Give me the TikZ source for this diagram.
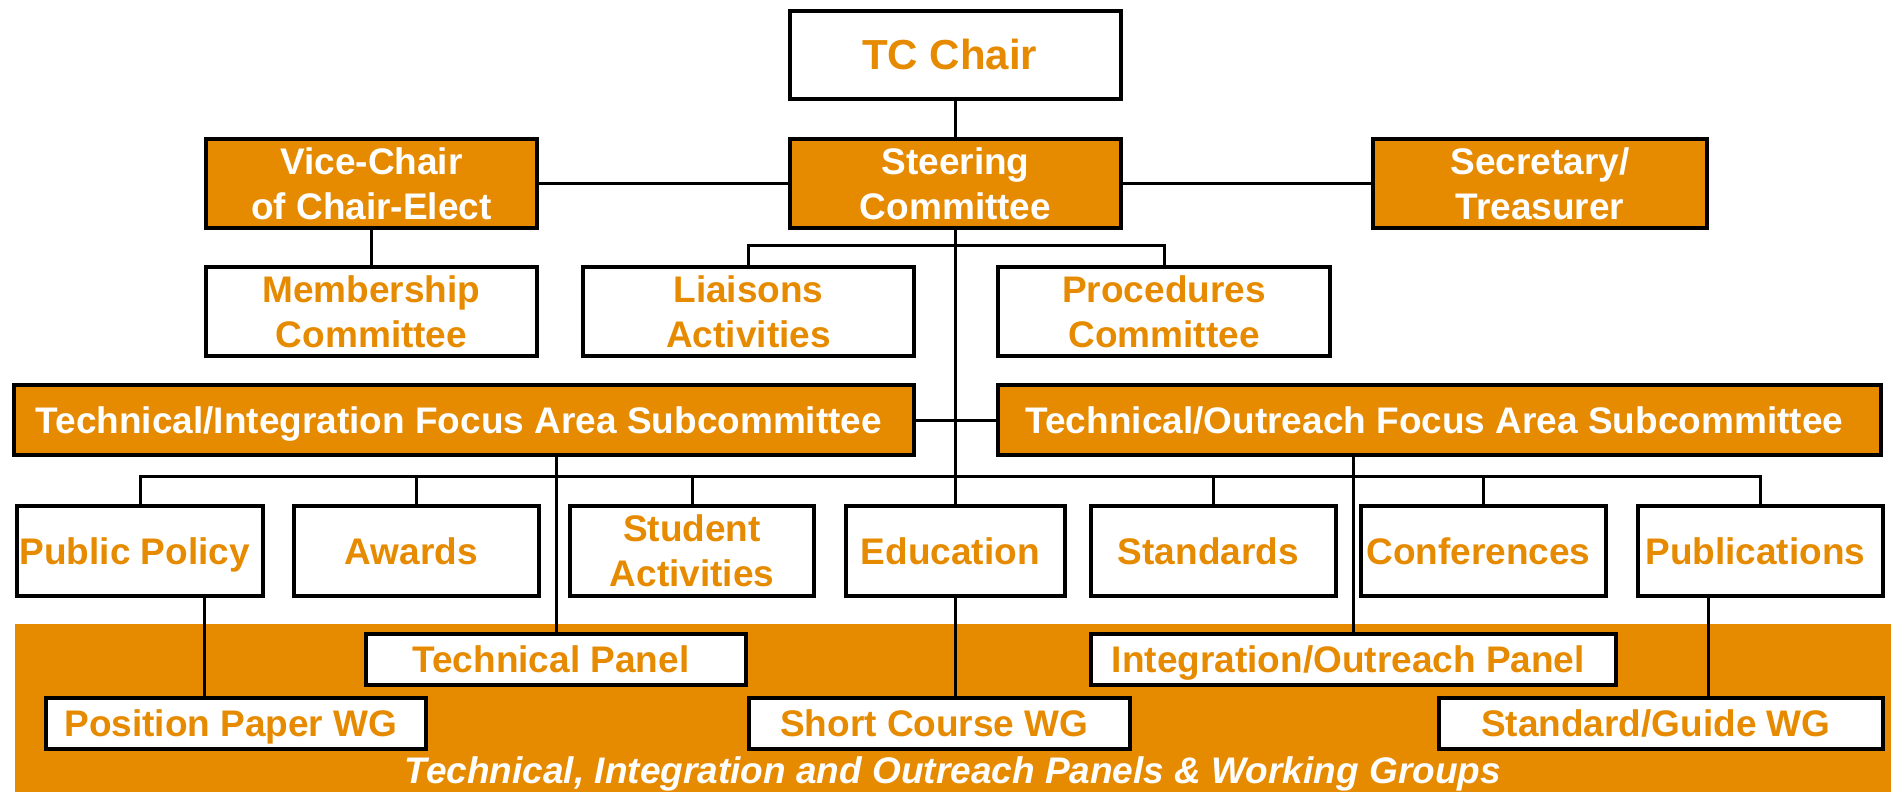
\documentclass[tikz,border=0pt]{standalone}
\usepackage{fontspec}
\setmainfont{Liberation Sans}
\definecolor{tcorange}{RGB}{230,138,0}
\tikzset{
    unit/.style={draw, line width=4pt, fill=white, text=tcorange, align=center,
        inner sep=0pt, minimum height=89pt, font=\bfseries\fontsize{37}{45}\selectfont},
    office/.style={unit, fill=tcorange, text=white},
    oneline/.style={text height=26.5pt, text depth=0pt},
    panel/.style={unit, oneline, minimum height=51pt},
    link/.style={line width=3pt},
}

\begin{document}
\begin{tikzpicture}[x=1pt, y=-1pt]
        \useasboundingbox (0,0) rectangle (1891,792);
        % panels and working groups band
        \fill[tcorange] (15,624) rectangle (1891,792);
        \node[align=center, text=white, anchor=base, font=\bfseries\itshape\fontsize{37}{45}\selectfont] (Caption) at (958,783) {
            Technical, Integration and Outreach Panels \& Working Groups
        };
        % officers
        \node[unit, minimum width=331pt, minimum height=88pt, text height=30pt, text depth=0pt, font=\bfseries\fontsize{42}{50}\selectfont] (TCChair) at (955.5,55) {
            TC Chair
        };
        \node[office, minimum width=331pt] (ViceChair) at (371.5,183.5) {
            Vice-Chair\\of Chair-Elect
        };
        \node[office, minimum width=331pt] (Steering) at (955.5,183.5) {
            Steering\\Committee
        };
        \node[office, minimum width=334pt] (Secretary) at (1540,183.5) {
            Secretary/\\Treasurer
        };
        \node[unit, minimum width=331pt] (Membership) at (371.5,311.5) {
            Membership\\Committee
        };
        \node[unit, minimum width=331pt] (Liaisons) at (748.5,311.5) {
            Liaisons\\Activities
        };
        \node[unit, minimum width=332pt] (Procedures) at (1164,311.5) {
            Procedures\\Committee
        };
        % focus area subcommittees
        \node[office, oneline, minimum width=900pt, minimum height=70pt] (TechInt) at (464,420) {
            Technical/Integration Focus Area Subcommittee
        };
        \node[office, oneline, minimum width=883pt, minimum height=70pt] (TechOut) at (1439.5,420) {
            Technical/Outreach Focus Area Subcommittee
        };
        % standing committees
        \node[unit, oneline, minimum width=246pt, minimum height=90pt] (PublicPolicy) at (140,551) {
            Public Policy
        };
        \node[unit, oneline, minimum width=245pt, minimum height=90pt] (Awards) at (416.5,551) {
            Awards
        };
        \node[unit, minimum width=244pt, minimum height=90pt] (Student) at (692,551) {
            Student\\Activities
        };
        \node[unit, oneline, minimum width=219pt, minimum height=90pt] (Education) at (955.5,551) {
            Education
        };
        \node[unit, oneline, minimum width=245pt, minimum height=90pt] (Standards) at (1213.5,551) {
            Standards
        };
        \node[unit, oneline, minimum width=245pt, minimum height=90pt] (Conferences) at (1483.5,551) {
            Conferences
        };
        \node[unit, oneline, minimum width=245pt, minimum height=90pt] (Publications) at (1760.5,551) {
            Publications
        };
        % panels and working groups
        \node[panel, minimum width=380pt] (TechPanel) at (556,659.5) {
            Technical Panel
        };
        \node[panel, minimum width=525pt] (IOPanel) at (1353.5,659.5) {
            Integration/Outreach Panel
        };
        \node[panel, minimum width=380pt] (PositionPaper) at (236,723.5) {
            Position Paper WG
        };
        \node[panel, minimum width=381pt] (ShortCourse) at (939.5,723.5) {
            Short Course WG
        };
        \node[panel, minimum width=444pt] (StdGuide) at (1661,723.5) {
            Standard/Guide WG
        };
        % connections
        \draw[link] (TCChair) to (Steering);
        \draw[link] (ViceChair) to (Steering);
        \draw[link] (Steering) to (Secretary);
        \draw[link] (ViceChair) to (Membership);
        \draw[link] (Steering) to (Education);
        \draw[link] (Liaisons.north) -- ++(0,-20) -| (Procedures.north);
        \draw[link] (TechInt) to (TechOut);
        \draw[link] (PublicPolicy.north) -- ++(0,-28) -| (Publications.north);
        \draw[link] (Awards.north) -- ++(0,-28);
        \draw[link] (Student.north) -- ++(0,-28);
        \draw[link] (Standards.north) -- ++(0,-28);
        \draw[link] (Conferences.north) -- ++(0,-28);
        \draw[link] (TechPanel.north) -- (TechPanel.north |- TechInt.south);
        \draw[link] (IOPanel.north) -- (IOPanel.north |- TechOut.south);
        \draw[link] ([xshift=64pt]PublicPolicy.south) -- ([xshift=64pt]PublicPolicy.south |- PositionPaper.north);
        \draw[link] (Education.south) -- (Education.south |- ShortCourse.north);
        \draw[link] ([xshift=-52pt]Publications.south) -- ([xshift=-52pt]Publications.south |- StdGuide.north);
    \end{tikzpicture}
\end{document}
